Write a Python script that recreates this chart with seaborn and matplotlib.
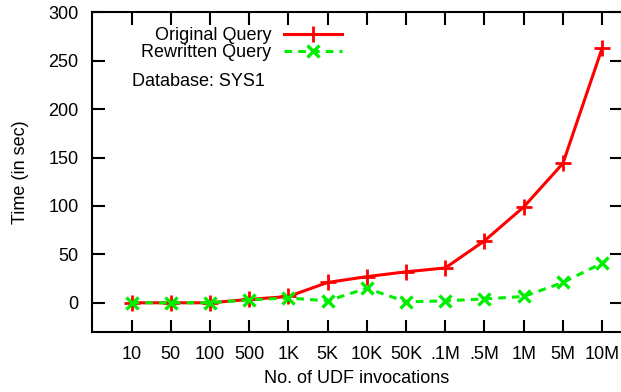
import matplotlib
matplotlib.use("Agg")
import matplotlib.pyplot as plt
import pandas as pd
import seaborn as sns

# data
invocations = ['10', '50', '100', '500', '1K', '5K', '10K', '50K', '.1M', '.5M', '1M', '5M', '10M']
original_time = [0, 0, 0, 3.5, 6.5, 21, 27, 32, 36, 64, 99, 144, 263]
rewritten_time = [0, 0, 0, 3, 5, 2, 15, 1, 2, 4, 6.5, 21, 41]
y_ticks = [0, 50, 100, 150, 200, 250, 300]

df = pd.DataFrame({
    'invocations': invocations * 2,
    'time': original_time + rewritten_time,
    'query': ['Original Query'] * len(invocations) + ['Rewritten Query'] * len(invocations),
})

plt.rcParams['font.family'] = ['Liberation Sans', 'DejaVu Sans']

fig, ax = plt.subplots(figsize=(6.21, 3.92), dpi=100)
# right border sits just past the edge of the picture
fig.subplots_adjust(left=0.1487, right=1.0012, bottom=0.1535, top=0.9685)

red = '#ff0000'
green = '#00ee00'
sns.lineplot(data=df[df['query'] == 'Original Query'], x='invocations', y='time',
             color=red, linewidth=2.2, marker='+', markersize=11, markeredgewidth=2,
             markeredgecolor=red, label='Original Query', ax=ax, sort=False)
sns.lineplot(data=df[df['query'] == 'Rewritten Query'], x='invocations', y='time',
             color=green, linewidth=2.2, linestyle=(0, (2.5, 2)), marker='x', markersize=9,
             markeredgewidth=2.4, markeredgecolor=green, label='Rewritten Query',
             ax=ax, sort=False)

ax.set_xlim(-1, 12.5)
ax.set_ylim(-30, 300)
ax.set_xticks(range(len(invocations)))
ax.set_xticklabels(invocations)
ax.set_yticks(y_ticks)
ax.set_xlabel("No. of UDF invocations", fontsize=13, labelpad=5)
ax.set_ylabel("Time (in sec)", fontsize=13, labelpad=14)
# gnuplot-style mirrored inward ticks
ax.tick_params(direction='in', length=9, width=1.5, color='black',
               top=True, right=True, labelsize=13, pad=10)
for s in ax.spines.values():
    s.set_linewidth(1.5)
    s.set_color('black')

leg = ax.legend(loc='upper right', bbox_to_anchor=(342 / 621, 1 - 27 / 392),
                bbox_transform=fig.transFigure, frameon=False, markerfirst=False,
                fontsize=13, handlelength=3.2, handletextpad=0.7, labelspacing=0,
                borderpad=0, borderaxespad=0)
for t in leg.get_texts():
    t.set_ha('right')
leg._legend_box.align = 'right'

fig.text(132 / 621, 1 - 81 / 392, "Database: SYS1", fontsize=13, va='center', ha='left')

fig.savefig('out.png', dpi=100)
